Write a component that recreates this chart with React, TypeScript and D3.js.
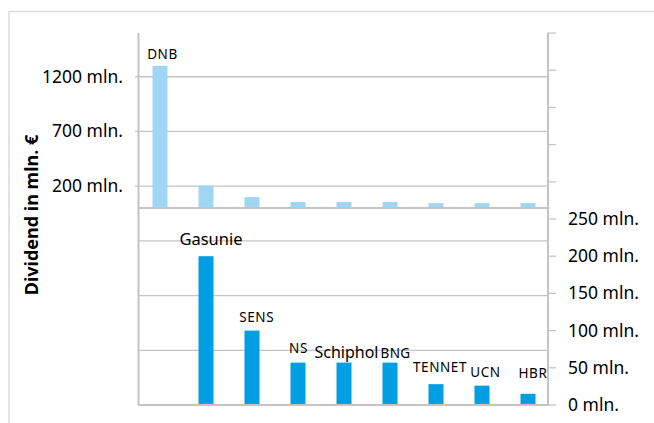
import React from 'react';
import * as d3 from 'd3';

// ---- data (mln. €) ----
const categories = ['DNB', 'Gasunie', 'SENS', 'NS', 'Schiphol', 'BNG', 'TENNET', 'UCN', 'HBR'];
const overviewValues = [1300, 205, 100, 55, 55, 55, 45, 45, 45];
const detailValues: (number | null)[] = [null, 200, 100, 57, 57, 57, 28, 26, 15];
const leftTicks = [-1800, -1300, -800, -300, 200, 700, 1200];
const leftLabeled = [200, 700, 1200];
const rightTicks = d3.range(0, 501, 50);
const rightLabeled = [0, 50, 100, 150, 200, 250];
const yTitle = 'Dividend in mln. €';

// ---- layout / style ----
const W = 654, H = 423;
const X0 = 138.5, X1 = 548;
const TOP = 33, BOTTOM = 405;
const FONT = "'Noto Sans', 'Open Sans', sans-serif";
const LIGHT = '#9fd6f4';
const DARK = '#009fe3';
const GRID = '#c4c4c4';
const AXIS = '#c4c4c4';

const labelStyle: Record<string, { size: number; gap: number; dx: number; ls: number }> = {
  DNB: { size: 13.5, gap: 6.7, dx: 2.5, ls: 0.6 },
  Gasunie: { size: 16.5, gap: 11, dx: 5, ls: 0 },
  SENS: { size: 13.5, gap: 8.3, dx: 4.7, ls: 0.6 },
  NS: { size: 13.5, gap: 9.7, dx: 0.5, ls: 0.6 },
  Schiphol: { size: 16, gap: 5, dx: 2.5, ls: 0 },
  BNG: { size: 13.5, gap: 4.7, dx: 5.5, ls: 0.4 },
  TENNET: { size: 13.5, gap: 11.7, dx: 4, ls: 0.6 },
  UCN: { size: 13.5, gap: 8.3, dx: 3.5, ls: 0.6 },
  HBR: { size: 13.5, gap: 16.3, dx: 5, ls: 0.6 },
};

export default function App() {
  const x = d3.scaleBand<string>().domain(categories).range([137, 551]).paddingInner(0.674).paddingOuter(0.337);
  const yLeft = d3.scaleLinear().domain([-1800, 1600]).range([BOTTOM, TOP]);
  const yRight = d3.scaleLinear().domain([0, 500]).range([BOTTOM, TOP]);
  const bw = x.bandwidth();
  const base = yLeft(0);

  return (
    <svg width={W} height={H} style={{ position: 'absolute', left: 0, top: 0, background: '#fff' }} fontFamily={FONT}>
      <rect x={9} y={11.5} width={700} height={500} fill="none" stroke="#dcdcdc" strokeWidth={1.6} />

      {/* grid lines */}
      {leftTicks.map((t) => (
        <line key={'g' + t} x1={X0} x2={X1} y1={yLeft(t)} y2={yLeft(t)} stroke={GRID} strokeWidth={1.3} />
      ))}
      {/* left ticks + labels */}
      {leftLabeled.map((t) => (
        <g key={'l' + t}>
          <line x1={X0 - 3.5} x2={X0} y1={yLeft(t)} y2={yLeft(t)} stroke={AXIS} strokeWidth={1.3} />
          <text x={123} y={yLeft(t) + 6} textAnchor="end" fontSize={17.5} fill="#000">
            {t} mln.
          </text>
        </g>
      ))}

      {/* overview bars (top panel) */}
      {categories.map((c, i) => (
        <rect key={'o' + c} x={x(c)} y={yLeft(overviewValues[i])} width={bw} height={base - yLeft(overviewValues[i])} fill={LIGHT} />
      ))}

      {/* detail bars (bottom panel) */}
      {categories.map((c, i) => {
        const v = detailValues[i];
        if (v == null) return null;
        return <rect key={'d' + c} x={x(c)} y={yRight(v)} width={bw} height={BOTTOM - yRight(v)} fill={DARK} />;
      })}

      {/* panel separator and baselines */}
      <line x1={X0} x2={X1} y1={base} y2={base} stroke={AXIS} strokeWidth={2} />
      <line x1={X0} x2={X1} y1={BOTTOM} y2={BOTTOM} stroke={AXIS} strokeWidth={2} />
      {/* axes */}
      <line x1={X0} x2={X0} y1={TOP} y2={BOTTOM} stroke={AXIS} strokeWidth={2} />
      <line x1={X1} x2={X1} y1={TOP} y2={BOTTOM} stroke={AXIS} strokeWidth={2} />
      {rightTicks.map((t) => (
        <line key={'rt' + t} x1={X1} x2={X1 + 8} y1={yRight(t)} y2={yRight(t)} stroke={AXIS} strokeWidth={1.3} />
      ))}
      {rightLabeled.map((t) => (
        <text key={'rl' + t} x={568} y={yRight(t) + 6} fontSize={17.5} fill="#000">
          {t} mln.
        </text>
      ))}

      {/* category labels */}
      {categories.map((c, i) => {
        const s = labelStyle[c];
        const v = detailValues[i];
        const top = v == null ? yLeft(overviewValues[i]) : yRight(v);
        return (
          <text key={'t' + c} x={(x(c) as number) + bw / 2 + s.dx} y={top - s.gap} textAnchor="middle" fontSize={s.size} letterSpacing={s.ls} fill="#000">
            {c}
          </text>
        );
      })}

      {/* y title */}
      <text transform={`translate(38,215) rotate(-90)`} textAnchor="middle" fontSize={18} fontWeight="bold" fill="#000">
        {yTitle}
      </text>
    </svg>
  );
}
